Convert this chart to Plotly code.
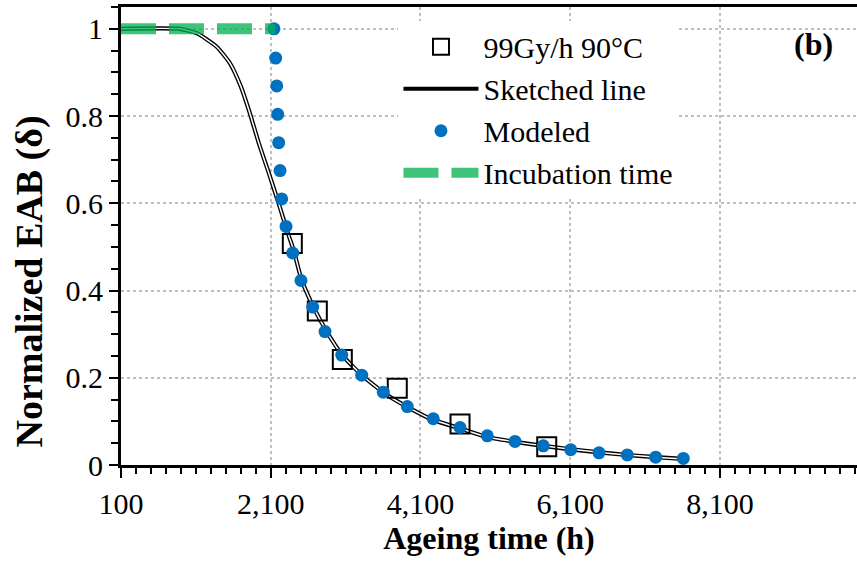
import plotly.graph_objects as go

# ---- data ----
exp_x = [2388, 2722, 3056, 3790, 4628, 5786]
exp_y = [0.508, 0.353, 0.242, 0.176, 0.094, 0.042]

sketch_x = [100, 888, 1111, 1378, 1556, 1700, 1820, 1940, 2075, 2205, 2330, 2405, 2513,
            2668, 2847, 3069, 3336, 3649, 3960, 4271, 4628, 4984, 5362, 5736, 6110,
            6484, 6858, 7245, 7606]
sketch_y = [1.0, 1.0, 0.990, 0.959, 0.921, 0.868, 0.807, 0.738, 0.669, 0.600, 0.531, 0.493,
            0.424, 0.363, 0.306, 0.249, 0.203, 0.161, 0.130, 0.103, 0.084, 0.064, 0.053,
            0.044, 0.036, 0.029, 0.023, 0.018, 0.014]

model_x = [2143, 2166, 2180, 2193, 2206, 2224, 2246, 2304, 2393, 2504, 2660, 2825, 3048,
           3315, 3603, 3924, 4271, 4628, 4992, 5362, 5740, 6106, 6484, 6862, 7241, 7610]
model_y = [1.0, 0.933, 0.869, 0.804, 0.739, 0.675, 0.610, 0.547, 0.486, 0.423, 0.362, 0.306,
           0.252, 0.206, 0.167, 0.134, 0.106, 0.086, 0.067, 0.054, 0.044, 0.035, 0.028,
           0.023, 0.018, 0.015]

incub_x = [100, 2160]
incub_y = [1.0, 1.0]

x_tickvals = [100, 2100, 4100, 6100, 8100]
x_ticktext = ["100", "2,100", "4,100", "6,100", "8,100"]
y_tickvals = [0, 0.2, 0.4, 0.6, 0.8, 1.0]
y_ticktext = ["0", "0.2", "0.4", "0.6", "0.8", "1"]

FONT = "'Liberation Serif', 'Times New Roman', Tinos, 'DejaVu Serif', serif"

fig = go.Figure()

fig.add_trace(go.Scatter(
    x=sketch_x, y=sketch_y, mode="lines", name="Sketched line",
    line=dict(color="black", width=4.2, shape="spline", smoothing=0.5),
    legendrank=2))
fig.add_trace(go.Scatter(
    x=sketch_x, y=sketch_y, mode="lines", showlegend=False, hoverinfo="skip",
    line=dict(color="white", width=1.5, shape="spline", smoothing=0.5)))
fig.add_trace(go.Scatter(
    x=exp_x, y=exp_y, mode="markers", name="99Gy/h 90°C",
    marker=dict(symbol="square-open", size=19, color="black", line=dict(width=2, color="black")),
    legendrank=1))
fig.add_trace(go.Scatter(
    x=model_x, y=model_y, mode="markers", name="Modeled",
    marker=dict(symbol="circle", size=13, color="#0070C0"),
    legendrank=3))
fig.add_trace(go.Scatter(
    x=incub_x, y=incub_y, mode="lines", name="Incubation time",
    line=dict(color="rgba(0,176,80,0.76)", width=11, dash="35px,13px"),
    legendrank=4))

fig.update_layout(
    width=857, height=565,
    margin=dict(l=121, r=0, t=7, b=100),
    paper_bgcolor="white", plot_bgcolor="white",
    font=dict(family=FONT, size=30, color="black"),
    showlegend=True,
    legend=dict(x=0.377, y=0.97, xanchor="left", yanchor="top",
                bgcolor="white", borderwidth=0, itemwidth=75,
                font=dict(family=FONT, size=30, color="black"),
                tracegroupgap=0),
    xaxis=dict(
        range=[100, 9930], tickmode="array", tickvals=x_tickvals, ticktext=x_ticktext,
        ticks="outside", ticklen=10, tickwidth=2, tickcolor="black",
        showline=True, linecolor="black", linewidth=3, mirror=True,
        showgrid=True, gridcolor="#BFBFBF", gridwidth=1.5, griddash="dot",
        zeroline=False,
        minor=dict(tick0=100, dtick=200, ticks="outside", ticklen=6, tickwidth=1.5,
                   tickcolor="black", showgrid=False),
        tickfont=dict(family=FONT, size=30, color="black"),
        title=dict(text="Ageing time (h)", font=dict(family=FONT, size=32, color="black", weight="bold"),
                   standoff=6),
    ),
    yaxis=dict(
        range=[0, 1.05], tickmode="array", tickvals=y_tickvals, ticktext=y_ticktext,
        ticks="outside", ticklen=9, tickwidth=2, tickcolor="black",
        showline=True, linecolor="black", linewidth=3, mirror=False,
        showgrid=True, gridcolor="#BFBFBF", gridwidth=1.5, griddash="dot",
        zeroline=False,
        minor=dict(tick0=0, dtick=0.05, ticks="outside", ticklen=7, tickwidth=1.5,
                   tickcolor="black", showgrid=False),
        tickfont=dict(family=FONT, size=30, color="black"),
    ),
    annotations=[
        dict(text="Normalized EAB (δ)", xref="paper", yref="paper", x=-0.124, y=0.40,
             xanchor="center", yanchor="middle", textangle=-90, showarrow=False,
             font=dict(family=FONT, size=38, color="black", weight="bold")),
        dict(text="(b)", xref="paper", yref="paper", x=0.97, y=0.92,
             xanchor="right", yanchor="middle", showarrow=False,
             font=dict(family=FONT, size=32, color="black", weight="bold")),
    ],
)

fig.write_html("out.html")
